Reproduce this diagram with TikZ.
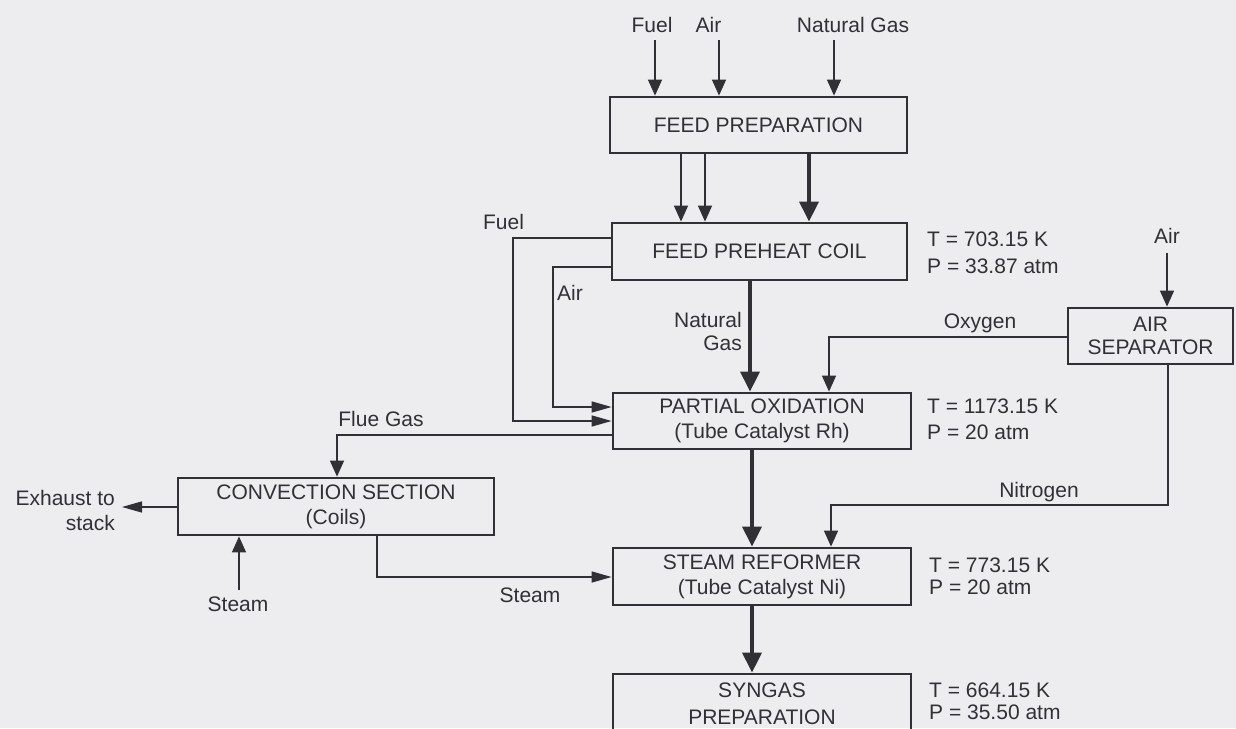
\documentclass[tikz,border=0pt]{standalone}
\usepackage{fontspec}
\setmainfont{Liberation Sans}
\usetikzlibrary{arrows.meta}
\definecolor{ink}{RGB}{48,48,54}
\definecolor{paper}{RGB}{237,237,240}
\begin{document}
\begin{tikzpicture}[x=1pt,y=-1pt,
  lbl/.style={inner sep=0pt, text=ink, font=\fontsize{21}{25}\selectfont},
  box/.style={draw=ink, line width=2.8pt, inner sep=0pt, align=center, text=ink, font=\fontsize{21}{25}\selectfont},
  flow/.style={draw=ink, line width=1.4pt},
  vthin/.style={flow, -{Triangle[length=16pt,width=14pt]}},
  hthin/.style={flow, -{Triangle[length=20pt,width=11pt]}},
  mainflow/.style={draw=ink, line width=3.4pt, -{Triangle[length=20pt,width=19pt]}},
]
\fill[paper] (0,0) rectangle (1236,728);
\useasboundingbox (0,0) rectangle (1236,728);
\clip (0,0) rectangle (1236,728);

% boxes
\node[box, minimum width=297pt, minimum height=56pt] (fp) at (758.5,125) {FEED PREPARATION};
\node[box, minimum width=295pt, minimum height=57pt] (fpc) at (759.5,251.5) {FEED PREHEAT COIL};
\node[box, minimum width=298pt, minimum height=56pt] (po) at (762,421) {PARTIAL OXIDATION\\(Tube Catalyst Rh)};
\node[box, minimum width=165pt, minimum height=56pt, font=\fontsize{21}{23.5}\selectfont] (asep) at (1150.5,336) {AIR\\SEPARATOR};
\node[box, minimum width=316pt, minimum height=57pt] (conv) at (336,506.5) {CONVECTION SECTION\\(Coils)};
\node[box, minimum width=298pt, minimum height=57pt] (sr) at (762,576.5) {STEAM REFORMER\\(Tube Catalyst Ni)};
\node[box, minimum width=298pt, minimum height=59pt, font=\fontsize{21}{27}\selectfont] (syn) at (762,703.5) {SYNGAS\\PREPARATION};

% top inputs
\node[lbl, anchor=base] (lfuel) at (652,32) {Fuel};
\node[lbl, anchor=base] (lair) at (708.5,32) {Air};
\node[lbl, anchor=base] (lng) at (853,32) {Natural Gas};
\coordinate (infuel) at (655,40);
\coordinate (inair) at (719,40);
\coordinate (inng) at (834,40);
\draw[vthin] (infuel) -- (fp.north -| infuel);
\draw[vthin] (inair) -- (fp.north -| inair);
\draw[vthin] (inng) -- (fp.north -| inng);

% feed preparation to preheat coil
\draw[vthin] (fp.south -| 681,0) -- (fpc.north -| 681,0);
\draw[vthin] (fp.south -| 705,0) -- (fpc.north -| 705,0);
\draw[mainflow] (fp.south -| 809,0) -- (fpc.north -| 809,0);

% fuel and air loops
\draw[hthin] (fpc.west |- 0,238) -| (513,330) |- (po.west |- 0,421);
\draw[hthin] (fpc.west |- 0,267) -| (553,330) |- (po.west |- 0,407);
\node[lbl, anchor=base] (lfuel2) at (503.5,229) {Fuel};
\node[lbl, anchor=base] (lair2) at (570,300) {Air};

% natural gas
\draw[mainflow] (fpc.south -| 750,0) -- (po.north -| 750,0);
\node[lbl, anchor=east, align=right, font=\fontsize{21}{23.5}\selectfont] (lng2) at (742,331.5) {Natural\\Gas};

% conditions
\node[lbl, anchor=west, align=left, font=\fontsize{21}{27.5}\selectfont] (cfpc) at (927,253) {T = 703.15 K\\P = 33.87 atm};
\node[lbl, anchor=west, align=left, font=\fontsize{21}{26}\selectfont] (cpo) at (927,419) {T = 1173.15 K\\P = 20 atm};
\node[lbl, anchor=west, align=left, font=\fontsize{21}{22}\selectfont] (csr) at (929,576) {T = 773.15 K\\P = 20 atm};
\node[lbl, anchor=west, align=left, font=\fontsize{21}{22}\selectfont] (csyn) at (929,701) {T = 664.15 K\\P = 35.50 atm};

% air separator
\node[lbl, anchor=base] (lair3) at (1167,243) {Air};
\coordinate (inair3) at (1167,253);
\draw[vthin] (inair3) -- (asep.north -| inair3);
\draw[vthin] (asep.west |- 0,337) -| (po.north -| 829,0);
\node[lbl, anchor=base] (lox) at (980,328) {Oxygen};
\draw[vthin] (asep.south -| 1168,0) |- (1000,505) -| (sr.north -| 831,0);
\node[lbl, anchor=base] (lni) at (1039,497) {Nitrogen};

% flue gas and convection
\draw[vthin] (po.west |- 0,435) -| (conv.north -| 337,0);
\node[lbl, anchor=base] (lflue) at (381,426) {Flue Gas};
\coordinate (exh) at (122,507);
\draw[hthin] (conv.west |- 0,507) -- (exh);
\node[lbl, anchor=east, align=right] (lexh) at (115,510) {Exhaust to\\stack};
\coordinate (instm) at (239,590);
\draw[vthin] (instm) -- (conv.south -| instm);
\node[lbl, anchor=base] (lstm) at (238,611) {Steam};
\draw[hthin] (conv.south -| 377,0) |- (sr.west |- 0,577);
\node[lbl, anchor=base] (lstm2) at (530,602) {Steam};

% main chain
\draw[mainflow] (po.south -| 752,0) -- (sr.north -| 752,0);
\draw[mainflow] (sr.south -| 752,0) -- (syn.north -| 752,0);
\end{tikzpicture}
\end{document}
